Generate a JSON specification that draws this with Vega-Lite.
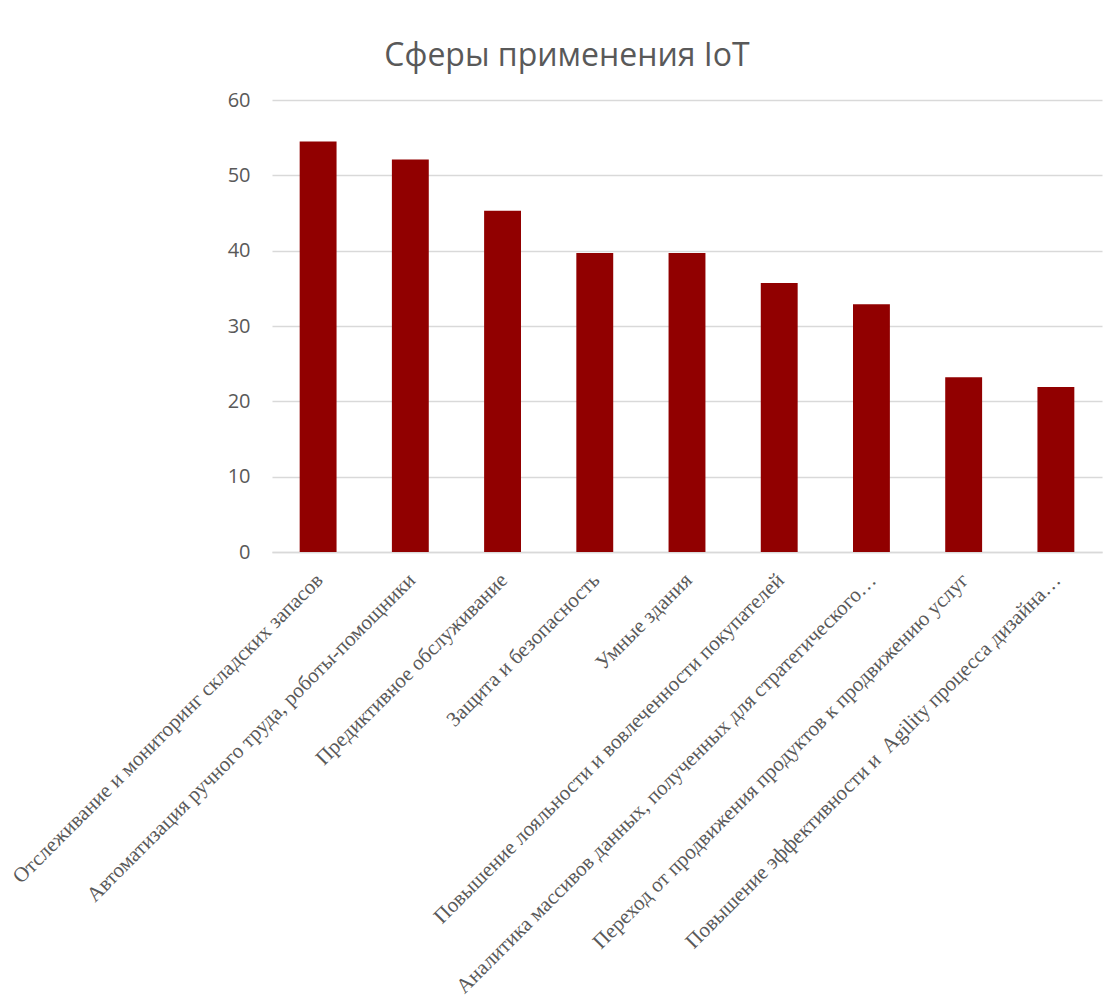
{
  "$schema": "https://vega.github.io/schema/vega-lite/v6.json",
  "autosize": "none",
  "padding": {"left": 272, "top": 100, "right": 12, "bottom": 449},
  "width": 830,
  "height": 452,
  "background": "white",
  "title": {
    "text": "Сферы применения IoT",
    "font": "Open Sans",
    "fontSize": 32,
    "fontWeight": "normal",
    "color": "#595959",
    "anchor": "middle",
    "dx": -120,
    "offset": 17
  },
  "data": {
    "values": [
      {"category": "Отслеживание и мониторинг складских запасов", "value": 54.5},
      {"category": "Автоматизация ручного труда, роботы-помощники", "value": 52.1},
      {"category": "Предиктивное обслуживание", "value": 45.3},
      {"category": "Защита и безопасность", "value": 39.7},
      {"category": "Умные здания", "value": 39.7},
      {"category": "Повышение лояльности и вовлеченности покупателей", "value": 35.7},
      {"category": "Аналитика массивов данных, полученных для стратегического…", "value": 32.9},
      {"category": "Переход от продвижения продуктов к продвижению услуг", "value": 23.2},
      {"category": "Повышение эффективности и\u00a0 Agility процесса дизайна…", "value": 21.9}
    ]
  },
  "mark": {"type": "bar", "color": "#910000"},
  "encoding": {
    "x": {
      "field": "category",
      "type": "nominal",
      "sort": null,
      "scale": {"paddingInner": 0.6, "paddingOuter": 0.3},
      "axis": {
        "title": null,
        "labelAngle": -45,
        "labelFont": "Liberation Serif",
        "labelFontSize": 21,
        "labelColor": "#595959",
        "labelLimit": 800,
        "labelPadding": 17,
        "labelOffset": -6,
        "ticks": false,
        "domainColor": "#d9d9d9",
        "domainWidth": 1.5,
        "grid": false
      }
    },
    "y": {
      "field": "value",
      "type": "quantitative",
      "scale": {"domain": [0, 60]},
      "axis": {
        "title": null,
        "values": [0, 10, 20, 30, 40, 50, 60],
        "labelFont": "Open Sans",
        "labelFontSize": 20,
        "labelColor": "#595959",
        "labelPadding": 22,
        "ticks": false,
        "domain": false,
        "gridColor": "#d9d9d9",
        "gridWidth": 1.5
      }
    }
  },
  "config": {
    "view": {"stroke": null}
  }
}
